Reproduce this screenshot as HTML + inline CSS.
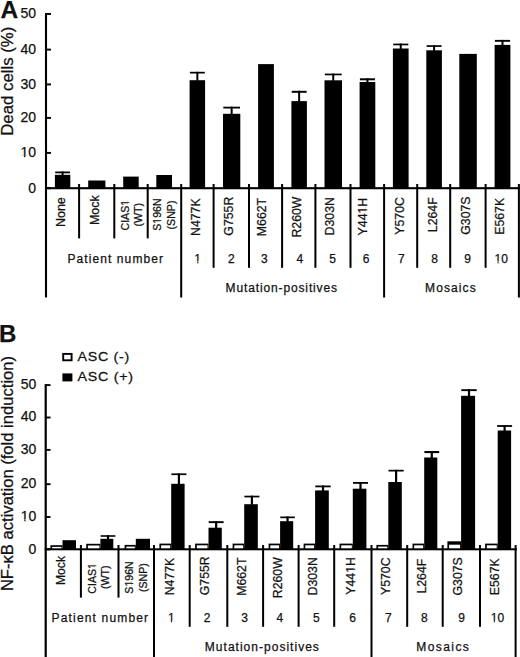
<!DOCTYPE html>
<html><head><meta charset="utf-8"><title>Figure</title>
<style>
html,body{margin:0;padding:0;background:#fff;}
body{width:520px;height:657px;overflow:hidden;}
svg{display:block;}
text{font-family:"Liberation Sans", sans-serif;fill:#111;stroke:#111;stroke-width:0.25px;}
</style></head>
<body>
<svg width="520" height="657" viewBox="0 0 520 657">
<rect x="0" y="0" width="520" height="657" fill="#fff"/>
<text x="0.62" y="17.70" font-size="24.50" font-weight="bold">A</text>
<rect x="44.95" y="13.00" width="2.10" height="284.50" fill="#000"/>
<rect x="46.00" y="13.00" width="5.00" height="1.90" fill="#000"/>
<text x="20.57" y="18.47" font-size="14.00">50</text>
<rect x="46.00" y="48.65" width="5.00" height="1.90" fill="#000"/>
<text x="20.57" y="53.62" font-size="14.00">40</text>
<rect x="46.00" y="83.45" width="5.00" height="1.90" fill="#000"/>
<text x="20.57" y="88.72" font-size="14.00">30</text>
<rect x="46.00" y="116.95" width="5.00" height="1.90" fill="#000"/>
<text x="20.57" y="122.22" font-size="14.00">20</text>
<rect x="46.00" y="151.95" width="5.00" height="1.90" fill="#000"/>
<text x="20.57" y="157.32" font-size="14.00">10</text>
<g transform="translate(20.57 157.32)" fill="#fff"><rect x="0.36" y="-1.65" width="3.16" height="2.85"/><rect x="4.76" y="-1.65" width="3.09" height="2.85"/></g>
<rect x="46.00" y="187.25" width="5.00" height="1.90" fill="#000"/>
<text x="28.36" y="192.57" font-size="14.00">0</text>
<text x="12.75" y="135.78" font-size="16.80" transform="rotate(-90 12.75 135.78)">Dead cells (%)</text>
<rect x="45.00" y="187.15" width="474.50" height="2.10" fill="#000"/>
<rect x="78.10" y="184.00" width="2.00" height="54.40" fill="#000"/>
<rect x="113.30" y="184.00" width="2.00" height="54.40" fill="#000"/>
<rect x="146.70" y="184.00" width="2.00" height="54.40" fill="#000"/>
<rect x="180.20" y="184.00" width="2.00" height="113.50" fill="#000"/>
<rect x="212.60" y="184.00" width="2.00" height="83.80" fill="#000"/>
<rect x="248.00" y="184.00" width="2.00" height="83.80" fill="#000"/>
<rect x="281.10" y="184.00" width="2.00" height="83.80" fill="#000"/>
<rect x="314.40" y="184.00" width="2.00" height="83.80" fill="#000"/>
<rect x="349.50" y="184.00" width="2.00" height="83.80" fill="#000"/>
<rect x="383.10" y="184.00" width="2.00" height="113.50" fill="#000"/>
<rect x="416.20" y="184.00" width="2.00" height="83.80" fill="#000"/>
<rect x="449.20" y="184.00" width="2.00" height="83.80" fill="#000"/>
<rect x="484.60" y="184.00" width="2.00" height="83.80" fill="#000"/>
<rect x="517.90" y="184.00" width="2.00" height="113.50" fill="#000"/>
<rect x="54.90" y="174.80" width="15.40" height="13.40" fill="#000"/>
<rect x="55.20" y="171.50" width="14.80" height="1.80" fill="#000"/>
<rect x="61.60" y="171.50" width="2.00" height="3.80" fill="#000"/>
<rect x="88.20" y="180.50" width="17.20" height="7.70" fill="#000"/>
<rect x="123.20" y="176.60" width="15.50" height="11.60" fill="#000"/>
<rect x="156.30" y="175.00" width="15.70" height="13.20" fill="#000"/>
<rect x="189.60" y="80.20" width="15.50" height="108.00" fill="#000"/>
<rect x="189.90" y="71.80" width="14.90" height="1.70" fill="#000"/>
<rect x="196.35" y="71.80" width="2.00" height="8.90" fill="#000"/>
<rect x="223.00" y="113.80" width="17.30" height="74.40" fill="#000"/>
<rect x="223.30" y="106.70" width="16.70" height="1.80" fill="#000"/>
<rect x="230.65" y="106.70" width="2.00" height="7.60" fill="#000"/>
<rect x="258.10" y="64.10" width="15.80" height="124.10" fill="#000"/>
<rect x="291.40" y="101.10" width="15.50" height="87.10" fill="#000"/>
<rect x="291.70" y="90.80" width="14.90" height="2.00" fill="#000"/>
<rect x="298.15" y="90.80" width="2.00" height="10.80" fill="#000"/>
<rect x="324.50" y="80.30" width="17.50" height="107.90" fill="#000"/>
<rect x="324.80" y="73.60" width="16.90" height="1.70" fill="#000"/>
<rect x="332.25" y="73.60" width="2.00" height="7.20" fill="#000"/>
<rect x="359.60" y="82.00" width="15.70" height="106.20" fill="#000"/>
<rect x="359.90" y="78.30" width="15.10" height="2.00" fill="#000"/>
<rect x="366.45" y="78.30" width="2.00" height="4.20" fill="#000"/>
<rect x="392.90" y="48.50" width="15.70" height="139.70" fill="#000"/>
<rect x="393.20" y="43.60" width="15.10" height="1.70" fill="#000"/>
<rect x="399.75" y="43.60" width="2.00" height="5.40" fill="#000"/>
<rect x="426.30" y="50.30" width="15.60" height="137.90" fill="#000"/>
<rect x="426.60" y="45.20" width="15.00" height="1.70" fill="#000"/>
<rect x="433.10" y="45.20" width="2.00" height="5.60" fill="#000"/>
<rect x="459.30" y="53.90" width="17.50" height="134.30" fill="#000"/>
<rect x="494.60" y="44.90" width="15.80" height="143.30" fill="#000"/>
<rect x="494.90" y="39.90" width="15.20" height="1.90" fill="#000"/>
<rect x="501.50" y="39.90" width="2.00" height="5.50" fill="#000"/>
<text x="65.24" y="227.08" font-size="12.50" transform="rotate(-90 65.24 227.08)">None</text>
<text x="98.62" y="225.05" font-size="12.50" transform="rotate(-90 98.62 225.05)">Mock</text>
<text x="129.25" y="230.48" font-size="10.60" transform="rotate(-90 129.25 230.48)">CIAS1</text>
<g transform="rotate(-90 129.25 230.48) translate(129.25 230.48)" fill="#fff"><rect x="24.86" y="-1.39" width="2.54" height="2.59"/><rect x="28.34" y="-1.39" width="2.48" height="2.59"/></g>
<text x="142.45" y="226.47" font-size="10.60" transform="rotate(-90 142.45 226.47)">(WT)</text>
<text x="160.75" y="230.81" font-size="10.60" transform="rotate(-90 160.75 230.81)">S196N</text>
<g transform="rotate(-90 160.75 230.81) translate(160.75 230.81)" fill="#fff"><rect x="7.19" y="-1.39" width="2.54" height="2.59"/><rect x="10.67" y="-1.39" width="2.48" height="2.59"/></g>
<text x="175.05" y="229.43" font-size="10.60" transform="rotate(-90 175.05 229.43)">(SNP)</text>
<text x="199.78" y="235.99" font-size="12.30" transform="rotate(-90 199.78 235.99)">N477K</text>
<text x="233.08" y="235.66" font-size="12.30" transform="rotate(-90 233.08 235.66)">G755R</text>
<text x="265.68" y="236.15" font-size="12.30" transform="rotate(-90 265.68 236.15)">M662T</text>
<text x="300.68" y="237.54" font-size="12.30" transform="rotate(-90 300.68 237.54)">R260W</text>
<text x="334.48" y="235.40" font-size="12.30" transform="rotate(-90 334.48 235.40)">D303N</text>
<text x="367.33" y="235.39" font-size="12.30" transform="rotate(-90 367.33 235.39)">Y441H</text>
<g transform="rotate(-90 367.33 235.39) translate(367.33 235.39)" fill="#fff"><rect x="22.13" y="-1.52" width="2.85" height="2.72"/><rect x="26.07" y="-1.52" width="2.79" height="2.72"/></g>
<text x="403.63" y="234.71" font-size="12.30" transform="rotate(-90 403.63 234.71)">Y570C</text>
<text x="437.13" y="232.20" font-size="12.30" transform="rotate(-90 437.13 232.20)">L264F</text>
<text x="470.13" y="234.77" font-size="12.30" transform="rotate(-90 470.13 234.77)">G307S</text>
<text x="503.63" y="234.75" font-size="12.30" transform="rotate(-90 503.63 234.75)">E567K</text>
<text x="194.30" y="262.58" font-size="12.00">1</text>
<g transform="translate(194.30 262.58)" fill="#fff"><rect x="0.22" y="-1.50" width="2.80" height="2.70"/><rect x="4.08" y="-1.50" width="2.73" height="2.70"/></g>
<text x="227.91" y="262.64" font-size="12.00">2</text>
<text x="261.10" y="262.58" font-size="12.00">3</text>
<text x="296.55" y="262.58" font-size="12.00">4</text>
<text x="329.37" y="262.52" font-size="12.00">5</text>
<text x="362.77" y="262.58" font-size="12.00">6</text>
<text x="397.91" y="262.58" font-size="12.00">7</text>
<text x="431.21" y="262.58" font-size="12.00">8</text>
<text x="464.32" y="262.58" font-size="12.00">9</text>
<text x="494.50" y="262.58" font-size="12.00">10</text>
<g transform="translate(494.50 262.58)" fill="#fff"><rect x="0.22" y="-1.50" width="2.80" height="2.70"/><rect x="4.08" y="-1.50" width="2.73" height="2.70"/></g>
<text transform="translate(67.42 262.80) scale(1.000 1)" font-size="12.00" letter-spacing="1.093">Patient number</text>
<text transform="translate(225.52 292.30) scale(1.000 1)" font-size="12.00" letter-spacing="0.871">Mutation-positives</text>
<text transform="translate(425.12 292.40) scale(1.000 1)" font-size="12.00" letter-spacing="1.085">Mosaics</text>
<text x="-1.02" y="342.20" font-size="24.00" font-weight="bold">B</text>
<rect x="63.2" y="353.9" width="8.4" height="6.4" fill="#fff" stroke="#000" stroke-width="1.9"/>
<rect x="62.40" y="373.40" width="10.00" height="8.00" fill="#000"/>
<text transform="translate(77.57 360.70) scale(1.080 1)" font-size="13.20" letter-spacing="0.648">ASC (-)</text>
<text transform="translate(77.57 381.30) scale(1.080 1)" font-size="13.20" letter-spacing="0.666">ASC (+)</text>
<rect x="44.60" y="384.10" width="2.20" height="273.40" fill="#000"/>
<rect x="45.70" y="384.15" width="4.80" height="1.90" fill="#000"/>
<text x="20.77" y="388.82" font-size="14.00">50</text>
<rect x="45.70" y="416.55" width="4.80" height="1.90" fill="#000"/>
<text x="20.77" y="421.32" font-size="14.00">40</text>
<rect x="45.70" y="448.95" width="4.80" height="1.90" fill="#000"/>
<text x="20.77" y="453.82" font-size="14.00">30</text>
<rect x="45.70" y="483.25" width="4.80" height="1.90" fill="#000"/>
<text x="20.77" y="488.42" font-size="14.00">20</text>
<rect x="45.70" y="516.05" width="4.80" height="1.90" fill="#000"/>
<text x="20.77" y="520.62" font-size="14.00">10</text>
<g transform="translate(20.77 520.62)" fill="#fff"><rect x="0.36" y="-1.65" width="3.16" height="2.85"/><rect x="4.76" y="-1.65" width="3.09" height="2.85"/></g>
<rect x="45.70" y="548.35" width="4.80" height="1.90" fill="#000"/>
<text x="28.56" y="553.82" font-size="14.00">0</text>
<text x="12.70" y="591.10" font-size="16.60" transform="rotate(-90 12.70 591.10)">NF-κB activation (fold induction)</text>
<rect x="44.70" y="548.30" width="472.30" height="2.00" fill="#000"/>
<rect x="79.90" y="545.00" width="2.00" height="52.60" fill="#000"/>
<rect x="117.50" y="545.00" width="2.00" height="52.60" fill="#000"/>
<rect x="153.00" y="545.00" width="2.00" height="112.50" fill="#000"/>
<rect x="188.70" y="545.00" width="2.00" height="81.80" fill="#000"/>
<rect x="226.30" y="545.00" width="2.00" height="81.80" fill="#000"/>
<rect x="262.10" y="545.00" width="2.00" height="81.80" fill="#000"/>
<rect x="297.60" y="545.00" width="2.00" height="81.80" fill="#000"/>
<rect x="333.20" y="545.00" width="2.00" height="81.80" fill="#000"/>
<rect x="370.50" y="545.00" width="2.00" height="112.50" fill="#000"/>
<rect x="406.20" y="545.00" width="2.00" height="81.80" fill="#000"/>
<rect x="441.70" y="545.00" width="2.00" height="81.80" fill="#000"/>
<rect x="479.00" y="545.00" width="2.00" height="81.80" fill="#000"/>
<rect x="514.60" y="545.00" width="2.00" height="112.50" fill="#000"/>
<rect x="50.40" y="545.20" width="12.10" height="4.10" fill="#000"/>
<rect x="52.10" y="546.90" width="9.40" height="1.40" fill="#fff"/>
<rect x="62.50" y="540.20" width="13.50" height="9.10" fill="#000"/>
<rect x="86.20" y="543.80" width="14.20" height="5.50" fill="#000"/>
<rect x="87.90" y="545.50" width="11.50" height="2.80" fill="#fff"/>
<rect x="100.40" y="538.80" width="12.90" height="10.50" fill="#000"/>
<rect x="100.60" y="535.20" width="14.80" height="1.60" fill="#000"/>
<rect x="106.90" y="535.20" width="2.20" height="4.10" fill="#000"/>
<rect x="124.60" y="544.90" width="11.20" height="4.40" fill="#000"/>
<rect x="126.30" y="546.60" width="8.50" height="1.70" fill="#fff"/>
<rect x="135.80" y="538.80" width="14.20" height="10.50" fill="#000"/>
<rect x="159.40" y="543.60" width="11.80" height="5.70" fill="#000"/>
<rect x="161.10" y="545.30" width="9.10" height="3.00" fill="#fff"/>
<rect x="171.20" y="483.80" width="13.40" height="65.50" fill="#000"/>
<rect x="171.40" y="473.40" width="15.00" height="1.70" fill="#000"/>
<rect x="177.80" y="473.40" width="2.20" height="10.90" fill="#000"/>
<rect x="195.10" y="543.60" width="13.40" height="5.70" fill="#000"/>
<rect x="196.80" y="545.30" width="10.70" height="3.00" fill="#fff"/>
<rect x="208.50" y="527.70" width="13.30" height="21.60" fill="#000"/>
<rect x="208.70" y="521.20" width="14.90" height="1.90" fill="#000"/>
<rect x="215.05" y="521.20" width="2.20" height="7.00" fill="#000"/>
<rect x="232.60" y="543.60" width="11.60" height="5.70" fill="#000"/>
<rect x="234.30" y="545.30" width="8.90" height="3.00" fill="#fff"/>
<rect x="244.20" y="504.20" width="13.60" height="45.10" fill="#000"/>
<rect x="244.40" y="495.70" width="15.00" height="1.70" fill="#000"/>
<rect x="250.80" y="495.70" width="2.20" height="9.00" fill="#000"/>
<rect x="268.60" y="543.60" width="11.50" height="5.70" fill="#000"/>
<rect x="270.30" y="545.30" width="8.80" height="3.00" fill="#fff"/>
<rect x="280.10" y="521.20" width="13.10" height="28.10" fill="#000"/>
<rect x="280.30" y="516.50" width="14.50" height="1.70" fill="#000"/>
<rect x="286.45" y="516.50" width="2.20" height="5.20" fill="#000"/>
<rect x="303.60" y="543.60" width="11.50" height="5.70" fill="#000"/>
<rect x="305.30" y="545.30" width="8.80" height="3.00" fill="#fff"/>
<rect x="315.10" y="490.40" width="13.70" height="58.90" fill="#000"/>
<rect x="315.30" y="485.50" width="15.40" height="1.80" fill="#000"/>
<rect x="321.90" y="485.50" width="2.20" height="5.40" fill="#000"/>
<rect x="339.50" y="543.60" width="13.30" height="5.70" fill="#000"/>
<rect x="341.20" y="545.30" width="10.60" height="3.00" fill="#fff"/>
<rect x="352.80" y="488.70" width="13.60" height="60.60" fill="#000"/>
<rect x="353.00" y="482.00" width="15.00" height="1.80" fill="#000"/>
<rect x="359.40" y="482.00" width="2.20" height="7.20" fill="#000"/>
<rect x="376.40" y="544.90" width="11.90" height="4.40" fill="#000"/>
<rect x="378.10" y="546.60" width="9.20" height="1.70" fill="#fff"/>
<rect x="388.30" y="482.00" width="13.50" height="67.30" fill="#000"/>
<rect x="388.50" y="469.80" width="15.20" height="1.70" fill="#000"/>
<rect x="395.00" y="469.80" width="2.20" height="12.70" fill="#000"/>
<rect x="412.50" y="543.60" width="11.70" height="5.70" fill="#000"/>
<rect x="414.20" y="545.30" width="9.00" height="3.00" fill="#fff"/>
<rect x="424.20" y="457.50" width="13.10" height="91.80" fill="#000"/>
<rect x="424.40" y="451.00" width="14.80" height="2.10" fill="#000"/>
<rect x="430.70" y="451.00" width="2.20" height="7.00" fill="#000"/>
<rect x="447.40" y="541.30" width="13.70" height="8.00" fill="#000"/>
<rect x="449.10" y="544.70" width="11.00" height="3.60" fill="#fff"/>
<rect x="461.10" y="395.80" width="14.00" height="153.50" fill="#000"/>
<rect x="461.30" y="389.20" width="15.40" height="1.90" fill="#000"/>
<rect x="467.90" y="389.20" width="2.20" height="7.10" fill="#000"/>
<rect x="485.10" y="543.60" width="12.60" height="5.70" fill="#000"/>
<rect x="486.80" y="545.30" width="9.90" height="3.00" fill="#fff"/>
<rect x="497.70" y="430.50" width="13.40" height="118.80" fill="#000"/>
<rect x="497.10" y="425.10" width="15.00" height="1.80" fill="#000"/>
<rect x="503.50" y="425.10" width="2.20" height="5.90" fill="#000"/>
<text x="64.66" y="585.08" font-size="12.20" transform="rotate(-90 64.66 585.08)">Mock</text>
<text x="96.35" y="593.63" font-size="10.60" transform="rotate(-90 96.35 593.63)">CIAS1</text>
<g transform="rotate(-90 96.35 593.63) translate(96.35 593.63)" fill="#fff"><rect x="24.86" y="-1.39" width="2.54" height="2.59"/><rect x="28.34" y="-1.39" width="2.48" height="2.59"/></g>
<text x="109.15" y="589.02" font-size="10.60" transform="rotate(-90 109.15 589.02)">(WT)</text>
<text x="133.45" y="593.66" font-size="10.60" transform="rotate(-90 133.45 593.66)">S196N</text>
<g transform="rotate(-90 133.45 593.66) translate(133.45 593.66)" fill="#fff"><rect x="7.19" y="-1.39" width="2.54" height="2.59"/><rect x="10.67" y="-1.39" width="2.48" height="2.59"/></g>
<text x="147.35" y="592.03" font-size="10.60" transform="rotate(-90 147.35 592.03)">(SNP)</text>
<text x="173.83" y="595.34" font-size="12.30" transform="rotate(-90 173.83 595.34)">N477K</text>
<text x="208.83" y="595.21" font-size="12.30" transform="rotate(-90 208.83 595.21)">G755R</text>
<text x="246.08" y="595.80" font-size="12.30" transform="rotate(-90 246.08 595.80)">M662T</text>
<text x="281.53" y="598.19" font-size="12.30" transform="rotate(-90 281.53 598.19)">R260W</text>
<text x="317.48" y="595.45" font-size="12.30" transform="rotate(-90 317.48 595.45)">D303N</text>
<text x="355.08" y="594.74" font-size="12.30" transform="rotate(-90 355.08 594.74)">Y441H</text>
<g transform="rotate(-90 355.08 594.74) translate(355.08 594.74)" fill="#fff"><rect x="22.13" y="-1.52" width="2.85" height="2.72"/><rect x="26.07" y="-1.52" width="2.79" height="2.72"/></g>
<text x="390.38" y="595.01" font-size="12.30" transform="rotate(-90 390.38 595.01)">Y570C</text>
<text x="426.13" y="593.60" font-size="12.30" transform="rotate(-90 426.13 593.60)">L264F</text>
<text x="462.38" y="595.47" font-size="12.30" transform="rotate(-90 462.38 595.47)">G307S</text>
<text x="499.33" y="595.20" font-size="12.30" transform="rotate(-90 499.33 595.20)">E567K</text>
<text x="167.90" y="622.23" font-size="12.00">1</text>
<g transform="translate(167.90 622.23)" fill="#fff"><rect x="0.22" y="-1.50" width="2.80" height="2.70"/><rect x="4.08" y="-1.50" width="2.73" height="2.70"/></g>
<text x="203.86" y="622.29" font-size="12.00">2</text>
<text x="241.35" y="622.23" font-size="12.00">3</text>
<text x="276.40" y="622.23" font-size="12.00">4</text>
<text x="312.92" y="622.17" font-size="12.00">5</text>
<text x="349.27" y="622.23" font-size="12.00">6</text>
<text x="385.11" y="622.23" font-size="12.00">7</text>
<text x="420.91" y="622.23" font-size="12.00">8</text>
<text x="458.22" y="622.23" font-size="12.00">9</text>
<text x="490.80" y="622.23" font-size="12.00">10</text>
<g transform="translate(490.80 622.23)" fill="#fff"><rect x="0.22" y="-1.50" width="2.80" height="2.70"/><rect x="4.08" y="-1.50" width="2.73" height="2.70"/></g>
<text transform="translate(51.62 621.80) scale(1.000 1)" font-size="12.00" letter-spacing="1.162">Patient number</text>
<text transform="translate(204.82 651.00) scale(1.000 1)" font-size="12.00" letter-spacing="1.018">Mutation-positives</text>
<text transform="translate(416.32 651.20) scale(1.000 1)" font-size="12.00" letter-spacing="1.418">Mosaics</text>
</svg>
</body></html>
